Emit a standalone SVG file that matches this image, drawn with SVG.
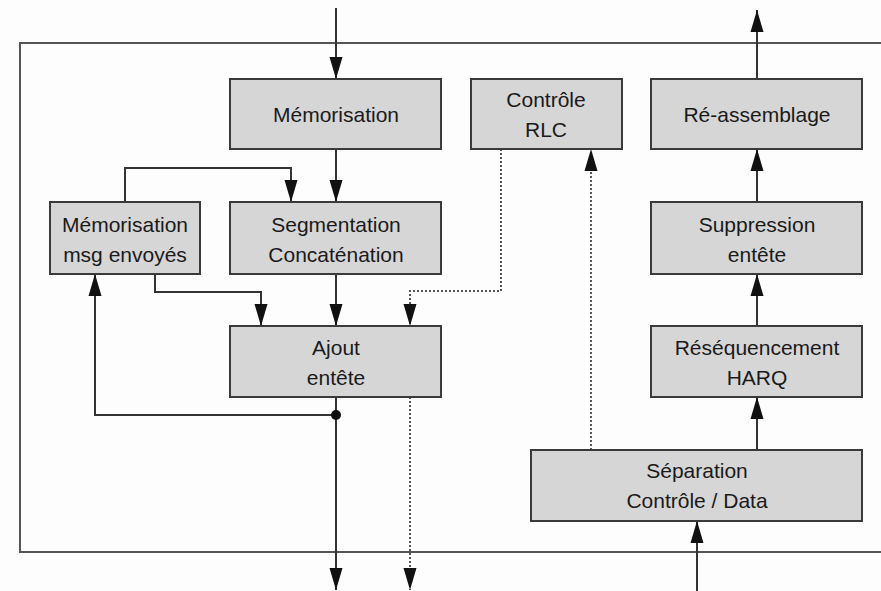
<svg xmlns="http://www.w3.org/2000/svg" width="881" height="591" viewBox="0 0 881 591">
<style>
.box{fill:#d6d6d6;stroke:#3a3a3a;stroke-width:2}
.t{font-family:"Liberation Sans",Arial,sans-serif;font-size:21px;fill:#1a1a1a;text-anchor:middle}
.ln{fill:none;stroke:#333;stroke-width:2}
.dt{fill:none;stroke:#555;stroke-width:2;stroke-dasharray:2,2}
.frame{fill:none;stroke:#555;stroke-width:2}
</style>
<defs>
<marker id="ah" markerUnits="userSpaceOnUse" markerWidth="22" markerHeight="14" refX="22" refY="7" orient="auto">
<path d="M0,0.5 L22,7 L0,13.5 z" fill="#111"/>
</marker>
</defs>
<rect width="881" height="591" fill="#fdfdfd"/>
<path class="frame" d="M882,43 H20 V552 H882"/>
<g id="connectors">
<path class="ln" d="M336,8 V79" marker-end="url(#ah)"/>
<path class="ln" d="M336,149 V202" marker-end="url(#ah)"/>
<path class="ln" d="M125,202 V168 H291 V202" marker-end="url(#ah)"/>
<path class="ln" d="M155,274 V292 H261 V326" marker-end="url(#ah)"/>
<path class="ln" d="M336,274 V326" marker-end="url(#ah)"/>
<path class="dt" d="M501,149 V291 H410 V326" marker-end="url(#ah)"/>
<path class="ln" d="M336,397 V590" marker-end="url(#ah)"/>
<path class="ln" d="M336,415 H95 V274" marker-end="url(#ah)"/>
<circle cx="336" cy="415" r="5" fill="#111"/>
<path class="dt" d="M410,397 V590" marker-end="url(#ah)"/>
<path class="dt" d="M591,450 V149" marker-end="url(#ah)"/>
<path class="ln" d="M757,450 V397" marker-end="url(#ah)"/>
<path class="ln" d="M757,326 V274" marker-end="url(#ah)"/>
<path class="ln" d="M757,202 V149" marker-end="url(#ah)"/>
<path class="ln" d="M757,79 V10" marker-end="url(#ah)"/>
<path class="ln" d="M697,591 V521" marker-end="url(#ah)"/>
</g>
<g id="memorisation"><rect class="box" x="230" y="79" width="211" height="70"/><text class="t" x="336" y="122">Mémorisation</text></g>
<g id="segmentation"><rect class="box" x="230" y="202" width="211" height="72"/><text class="t" x="336" y="232">Segmentation</text><text class="t" x="336" y="262">Concaténation</text></g>
<g id="memorisation-msg"><rect class="box" x="50" y="202" width="150" height="72"/><text class="t" x="125" y="232">Mémorisation</text><text class="t" x="125" y="262">msg envoyés</text></g>
<g id="ajout"><rect class="box" x="230" y="326" width="211" height="71"/><text class="t" x="336" y="355">Ajout</text><text class="t" x="336" y="385">entête</text></g>
<g id="controle-rlc"><rect class="box" x="471" y="79" width="151" height="70"/><text class="t" x="546" y="107">Contrôle</text><text class="t" x="546" y="137">RLC</text></g>
<g id="reassemblage"><rect class="box" x="651" y="79" width="211" height="70"/><text class="t" x="757" y="122">Ré-assemblage</text></g>
<g id="suppression"><rect class="box" x="651" y="202" width="211" height="72"/><text class="t" x="757" y="232">Suppression</text><text class="t" x="757" y="262">entête</text></g>
<g id="resequencement"><rect class="box" x="651" y="326" width="211" height="71"/><text class="t" x="757" y="355">Réséquencement</text><text class="t" x="757" y="385">HARQ</text></g>
<g id="separation"><rect class="box" x="531" y="450" width="331" height="71"/><text class="t" x="697" y="478">Séparation</text><text class="t" x="697" y="508">Contrôle / Data</text></g>
</svg>
